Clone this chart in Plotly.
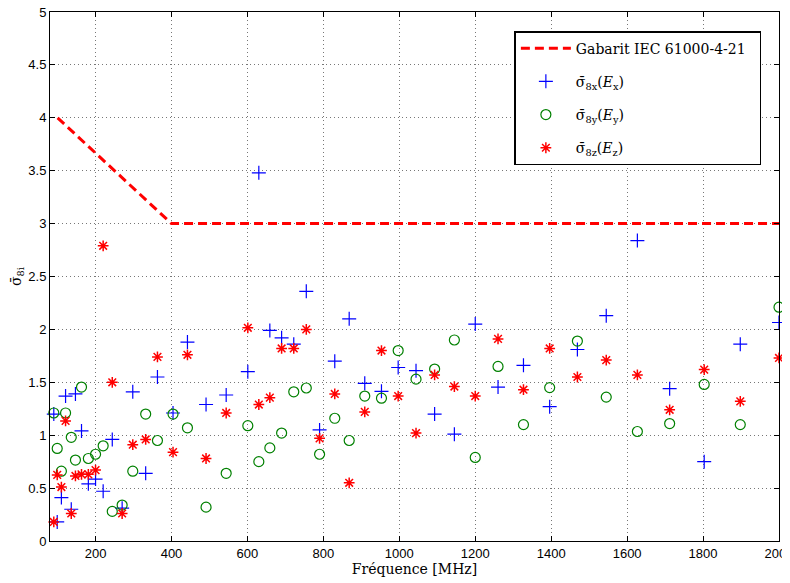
import plotly.graph_objects as go

# measurement frequencies (MHz)
freq = [90, 99, 110, 121, 136, 147, 163, 181, 200, 220,
        244, 270, 298, 332, 363, 404, 442, 491, 544, 601,
        630, 659, 690, 722, 755, 790, 830, 868, 909, 953,
        997, 1044, 1093, 1145, 1200, 1260, 1327, 1396, 1469, 1545,
        1627, 1712, 1803, 1898, 2000]

sig_x = [1.20, 0.18, 0.41, 1.37, 0.30, 1.39, 1.04, 0.54, 0.585, 0.47,
         0.96, 0.31, 1.41, 0.64, 1.55, 1.21, 1.88, 1.29, 1.38, 1.60,
         3.48, 1.99, 1.92, 1.86, 2.36, 1.05, 1.70, 2.10, 1.49, 1.415,
         1.64, 1.61, 1.20, 1.01, 2.05, 1.455, 1.66, 1.27, 1.81, 2.13,
         2.84, 1.44, 0.75, 1.86, 2.065]

sig_y = [1.21, 0.875, 0.66, 1.21, 0.98, 0.765, 1.455, 0.78, 0.82, 0.90,
         0.28, 0.34, 0.66, 1.20, 0.95, 1.20, 1.07, 0.32, 0.64, 1.09,
         0.75, 0.88, 1.02, 1.41, 1.446, 0.82, 1.16, 0.95, 1.37, 1.35,
         1.80, 1.53, 1.625, 1.90, 0.79, 1.65, 1.10, 1.45, 1.89, 1.36,
         1.035, 1.11, 1.48, 1.10, 2.21]

sig_z = [0.18, 0.625, 0.51, 1.135, 0.26, 0.615, 0.63, 0.63, 0.67, 2.79,
         1.50, 0.26, 0.91, 0.96, 1.74, 0.84, 1.76, 0.78, 1.21, 2.015,
         1.29, 1.355, 1.82, 1.82, 2.00, 0.97, 1.39, 0.55, 1.22, 1.80,
         1.37, 1.02, 1.57, 1.46, 1.37, 1.91, 1.43, 1.82, 1.55, 1.71,
         1.57, 1.24, 1.62, 1.32, 1.73]

# IEC 61000-4-21 template
gab_f = [100, 400, 2000]
gab_v = [4, 3, 3]

xticks = [200, 400, 600, 800, 1000, 1200, 1400, 1600, 1800, 2000]
yticks = [0, 0.5, 1, 1.5, 2, 2.5, 3, 3.5, 4, 4.5, 5]

serif = "DejaVu Serif, Liberation Serif, serif"
sans = "Liberation Sans, Arial, sans-serif"

fig = go.Figure()
fig.add_trace(go.Scatter(x=gab_f, y=gab_v, mode="lines", legendgroup="g0",
                         name="Gabarit IEC 61000-4-21\u00a0\u00a0",
                         line=dict(color="red", width=3, dash="9px,5px")))
fig.add_trace(go.Scatter(x=freq, y=sig_x, mode="markers", legendgroup="g1",
                         name="σ̄<sub>8x</sub>(<i>E</i><sub>x</sub>)", cliponaxis=False,
                         marker=dict(symbol="cross-thin-open", size=10, color="blue",
                                     line=dict(color="blue", width=1.2))))
fig.add_trace(go.Scatter(x=freq, y=sig_y, mode="markers", legendgroup="g2",
                         name="σ̄<sub>8y</sub>(<i>E</i><sub>y</sub>)", cliponaxis=False,
                         marker=dict(symbol="circle-open", size=10, color="green",
                                     line=dict(color="green", width=1.2))))
fig.add_trace(go.Scatter(x=freq, y=sig_z, mode="markers", legendgroup="g3",
                         name="σ̄<sub>8z</sub>(<i>E</i><sub>z</sub>)", cliponaxis=False,
                         marker=dict(symbol="asterisk-open", size=9, color="red",
                                     line=dict(color="red", width=1.5))))

axis_common = dict(showline=True, linecolor="black", linewidth=1, mirror="ticks",
                   ticks="inside", ticklen=5, tickcolor="black", automargin=False,
                   ticklabeloverflow="allow",
                   showgrid=True, gridcolor="#777", griddash="1px,3px", gridwidth=1,
                   zeroline=False, tickfont=dict(family=sans, size=13, color="black"))

# the page body adds an 8px offset, so the figure is drawn slightly smaller
fig.update_layout(
    width=782, height=575,
    margin=dict(l=42, r=11, t=4, b=42),
    plot_bgcolor="white", paper_bgcolor="white",
    xaxis=dict(range=[80, 2000], tickvals=xticks,
               title=dict(text="Fréquence [MHz]", font=dict(family=serif, size=14, color="black"),
                          standoff=2), **axis_common),
    yaxis=dict(range=[0, 5], tickvals=yticks,
               title=dict(text="σ̄<sub>8i</sub>", font=dict(family=serif, size=14, color="black"),
                          standoff=12), **axis_common),
    legend=dict(x=0.637, y=0.964, xanchor="left", yanchor="top",
                bgcolor="white", bordercolor="black", borderwidth=1.5,
                tracegroupgap=12, itemwidth=50,
                font=dict(family=serif, size=14, color="black")),
    showlegend=True,
)

fig.write_html("out.html")
